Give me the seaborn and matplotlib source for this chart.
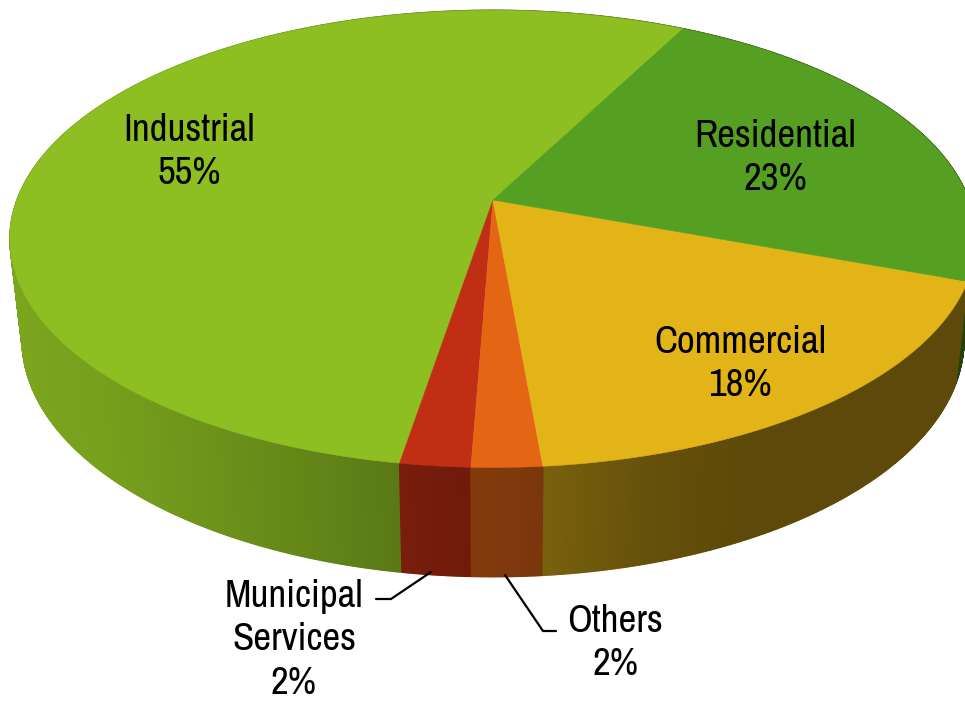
import numpy as np
import pandas as pd
import seaborn as sns
import matplotlib
matplotlib.use("Agg")
import matplotlib.pyplot as plt
from matplotlib.collections import PolyCollection
from matplotlib import font_manager as fm

# Electricity use by sector, in percent, clockwise from the first slice
sectors = ["Industrial", "Municipal", "Others", "Commercial", "Residential"]
shares = [55, 2, 2, 18, 23]
label_texts = ["Industrial\n55%", "Municipal\nServices\n2%", "Others\n2%",
               "Commercial\n18%", "Residential\n23%"]
colors = ["#8DBE22", "#C02E14", "#E46615", "#E2B418", "#55A022"]

label_x = [189, 294, 615, 740, 775]
label_y = [152, 640, 643, 364, 158]

# Wall shading varies with the horizontal position on the drum
shade_x = [15, 100, 200, 300, 395, 465, 549, 650, 750, 980]
shade_f = [0.87, 0.84, 0.78, 0.71, 0.64, 0.58, 0.53, 0.45, 0.41, 0.41]

sns.set_theme(style="white")
available = {f.name for f in fm.fontManager.ttflist}
label_font = next(n for n in ["Archivo Narrow", "PT Sans Narrow", "Liberation Sans"] if n in available)

df = pd.DataFrame({"sector": sectors, "share": shares, "color": colors,
                   "text": label_texts, "x": label_x, "y": label_y})
first_edge = 27.4
df["end"] = first_edge + 360 - 360 * (df["share"].cumsum() - df["share"]) / df["share"].sum()
df["start"] = df["end"] - 360 * df["share"] / df["share"].sum()


def project(theta, cx, y0, a, b, k):
    """Perspective view of a unit disc; theta runs clockwise from the far edge."""
    u, v = np.sin(np.radians(theta)), np.cos(np.radians(theta))
    w = 1 + k * v
    return cx + a * u / w, y0 - b * v / w


top = dict(cx=493, y0=200, a=476, b=222, k=0.17)
bottom = dict(cx=493, y0=299.6, a=464, b=230, k=0.17)

fig = plt.figure(figsize=(9.65, 7.04), dpi=100, facecolor="white")
ax = fig.add_axes([0, 0, 1, 1])
ax.set_xlim(0, 965)
ax.set_ylim(704, 0)
ax.axis("off")

# Drum wall: thin shaded strips, far side first so the near side overlaps it
strips, strip_colors = [], []
for _, row in df.iterrows():
    base = np.array(matplotlib.colors.to_rgb(row["color"]))
    edges = np.arange(row["start"], row["end"] + 0.25, 0.25)
    edges[-1] = row["end"]
    for t0, t1 in zip(edges[:-1], edges[1:]):
        x0, y0 = project(np.array([t0, t1]), **top)
        x1, y1 = project(np.array([t1, t0]), **bottom)
        strips.append(np.column_stack([np.r_[x0, x1], np.r_[y0, y1]]))
        strip_colors.append(base * np.interp(x0.mean(), shade_x, shade_f))
order = np.argsort([s[:, 1].mean() for s in strips])
walls = PolyCollection([strips[i] for i in order],
                       facecolors=[strip_colors[i] for i in order],
                       edgecolors=[strip_colors[i] for i in order], linewidths=1.0)
ax.add_collection(walls)

# Top face of each slice
for _, row in df.iterrows():
    th = np.linspace(row["start"], row["end"], 240)
    x, y = project(th, **top)
    ax.fill(np.r_[top["cx"], x], np.r_[top["y0"], y], color=row["color"], lw=0.4, zorder=3)

# Leader lines for the two smallest slices
ax.plot([376, 391, 431], [599, 599, 572], color="black", lw=1.6, zorder=4, solid_joinstyle="miter")
ax.plot([505, 543, 556], [575, 631, 631], color="black", lw=1.6, zorder=4, solid_joinstyle="miter")

for _, row in df.iterrows():
    ax.text(row["x"], row["y"], row["text"], ha="center", va="center", multialignment="center",
            fontfamily=label_font, fontweight="bold", fontsize=28, color="black",
            linespacing=1.3, zorder=5)

fig.savefig("out.png", dpi=100, facecolor="white")
